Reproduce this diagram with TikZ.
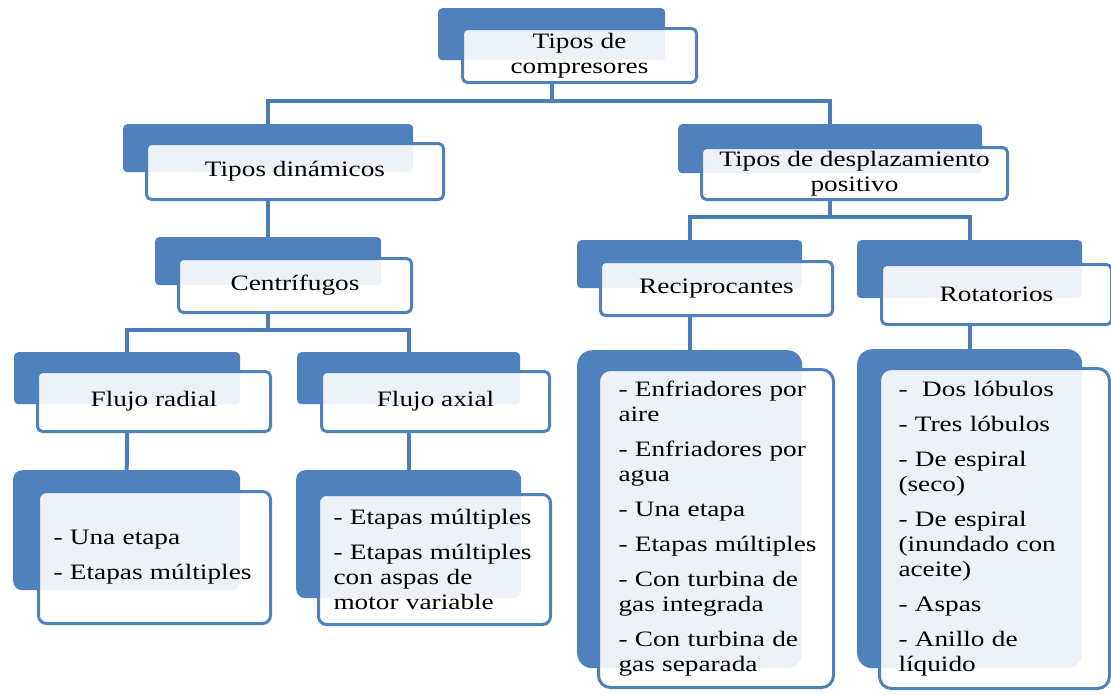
\documentclass[tikz,border=0pt]{standalone}
\usepackage{fontspec}
\setmainfont{Liberation Serif}[FakeStretch=1.24]
\definecolor{officeblue}{HTML}{4F81BD}
\definecolor{linkblue}{HTML}{4A7CB8}
\begin{document}
\hyphenpenalty=10000
\exhyphenpenalty=10000
\begin{tikzpicture}[x=1pt,y=-1pt,
  backbox/.style={fill=officeblue, rounded corners=4pt, inner sep=0pt, anchor=north west},
  frontbox/.style={draw=officeblue, line width=3pt, fill=white, fill opacity=0.9,
    text opacity=1, rounded corners=5pt, inner sep=0pt, anchor=north west,
    align=center, font=\fontsize{22}{25}\selectfont},
  listbox/.style={frontbox, align=left},
  link/.style={draw=linkblue, line width=4pt}]
\useasboundingbox (0,0) rectangle (1111,694);

% root
\node[backbox, minimum width=227pt, minimum height=52pt] (topB) at (438,8) {};
\node[frontbox, minimum width=234pt, minimum height=54pt] (top) at (461,27) {Tipos de\\compresores};

% dynamic branch
\node[backbox, minimum width=290pt, minimum height=48pt] (dynB) at (123,124) {};
\node[frontbox, minimum width=297pt, minimum height=56pt] (dyn) at (145,142) {Tipos dinámicos};

\node[backbox, minimum width=226pt, minimum height=48pt] (cenB) at (155,237) {};
\node[frontbox, minimum width=233pt, minimum height=54pt] (cen) at (177,257) {Centrífugos};

\node[backbox, minimum width=226pt, minimum height=52pt] (radB) at (14,352) {};
\node[frontbox, minimum width=233pt, minimum height=60pt] (rad) at (36,370) {Flujo radial};

\node[backbox, minimum width=223pt, minimum height=52pt] (axB) at (297,352) {};
\node[frontbox, minimum width=228pt, minimum height=60pt] (ax) at (320,370) {Flujo axial};

\node[backbox, rounded corners=9pt, minimum width=227pt, minimum height=120pt] (radLB) at (13,470) {};
\node[listbox, rounded corners=8pt, minimum width=232pt, minimum height=132pt, text width=202pt] (radL) at (37,490)
  {-~Una~etapa\\[10pt]-~Etapas~múltiples};

\node[backbox, rounded corners=9pt, minimum width=225pt, minimum height=128pt] (axLB) at (296,470) {};
\node[listbox, rounded corners=8pt, minimum width=232pt, minimum height=130pt, text width=202pt] (axL) at (317,493)
  {-~Etapas~múltiples\\[10pt]-~Etapas~múltiples\\con~aspas~de\\motor~variable};

% positive displacement branch
\node[backbox, minimum width=304pt, minimum height=49pt] (desB) at (678,124) {};
\node[frontbox, minimum width=306pt, minimum height=52pt] (des) at (700,146) {Tipos de desplazamiento\\positivo};

\node[backbox, minimum width=225pt, minimum height=48pt] (recB) at (577,240) {};
\node[frontbox, minimum width=232pt, minimum height=54pt] (rec) at (599,260) {Reciprocantes};

\node[backbox, minimum width=225pt, minimum height=58pt] (rotB) at (857,240) {};
\node[frontbox, minimum width=230pt, minimum height=60pt] (rot) at (880,263) {Rotatorios};

\node[backbox, rounded corners=15pt, minimum width=225pt, minimum height=318pt] (recLB) at (577,350) {};
\node[listbox, rounded corners=12pt, minimum width=235pt, minimum height=318pt, text width=195pt] (recL) at (597,368)
  {-~Enfriadores~por\\aire\\[10pt]-~Enfriadores~por\\agua\\[10pt]-~Una~etapa\\[10pt]-~Etapas~múltiples\\[10pt]-~Con~turbina~de\\gas~integrada\\[10pt]-~Con~turbina~de\\gas~separada};

\node[backbox, rounded corners=15pt, minimum width=225pt, minimum height=319pt] (rotLB) at (857,349) {};
\node[listbox, rounded corners=12pt, minimum width=230pt, minimum height=320pt, text width=192pt] (rotL) at (878,367)
  {-\ \ Dos~lóbulos\\[10pt]-~Tres~lóbulos\\[10pt]-~De~espiral\\(seco)\\[10pt]-~De~espiral\\(inundado~con\\aceite)\\[10pt]-~Aspas\\[10pt]-~Anillo~de\\líquido};

% connector bar levels
\coordinate (barA) at (0,101);
\coordinate (barB) at (0,330);
\coordinate (barC) at (0,217);

\draw[link] (topB.center |- top.south) -- (topB.center |- barA) -| (dynB.north);
\draw[link] (topB.center |- barA) -| (desB.north);
\draw[link] (dynB.center |- dyn.south) -- (cenB.north);
\draw[link] (cenB.center |- cen.south) -- (cenB.center |- barB) -| (radB.north);
\draw[link] (cenB.center |- barB) -| (axB.north);
\draw[link] (radB.center |- rad.south) -- (radLB.north);
\draw[link] (axB.center |- ax.south) -- (axLB.north);
\draw[link] (desB.center |- des.south) -- (desB.center |- barC) -| (recB.north);
\draw[link] (desB.center |- barC) -| (rotB.north);
\draw[link] (recB.center |- rec.south) -- (recLB.north);
\draw[link] (rotB.center |- rot.south) -- (rotLB.north);
\end{tikzpicture}
\end{document}
